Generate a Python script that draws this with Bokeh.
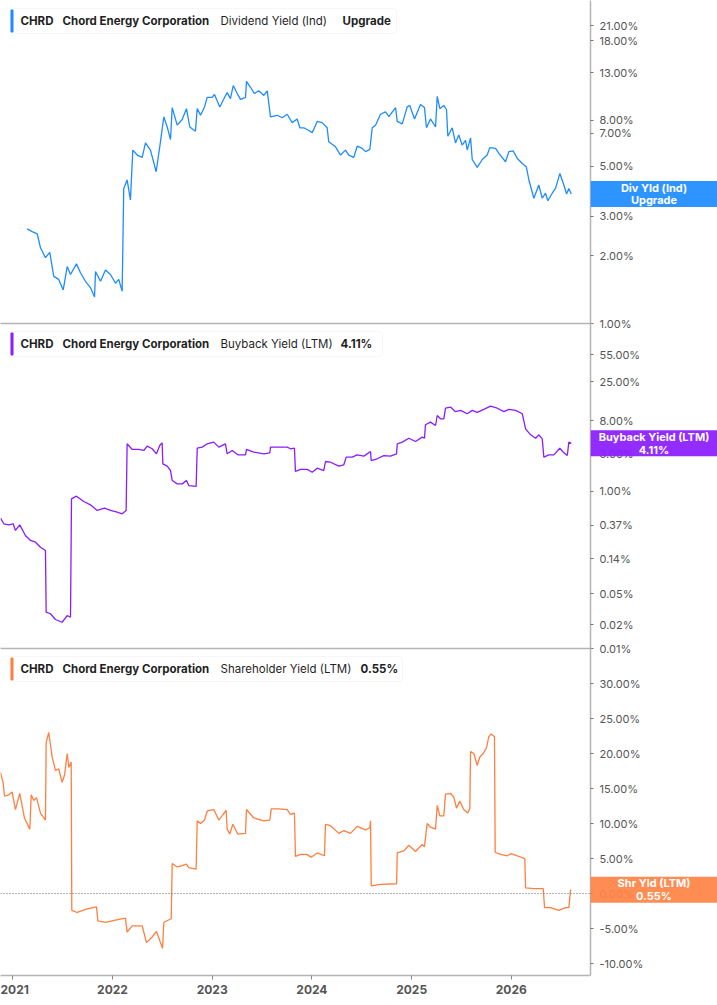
from bokeh.plotting import figure
from bokeh.layouts import column, row
from bokeh.models import (ColumnDataSource, FixedTicker, PrintfTickFormatter, Range1d,
                          Span, Label, BoxAnnotation)
from bokeh.core.properties import value
from bokeh.embed import file_html
from bokeh.resources import INLINE

# CHRD yields (x = fractional year, y = percent)
years = [2021, 2022, 2023, 2024, 2025, 2026]

div_t = [2021.144, 2021.195, 2021.245, 2021.278, 2021.328, 2021.371, 2021.411, 2021.461, 2021.506, 2021.546,
         2021.579, 2021.639, 2021.679, 2021.729, 2021.780, 2021.820, 2021.830, 2021.880, 2021.930, 2021.980,
         2022.030, 2022.063, 2022.097, 2022.113, 2022.147, 2022.180, 2022.204, 2022.248, 2022.298, 2022.331,
         2022.381, 2022.438, 2022.481, 2022.515, 2022.549, 2022.582, 2022.599, 2022.649, 2022.699, 2022.742,
         2022.775, 2022.832, 2022.850, 2022.883, 2022.923, 2022.950, 2023.000, 2023.023, 2023.076, 2023.110,
         2023.150, 2023.183, 2023.211, 2023.251, 2023.284, 2023.334, 2023.344, 2023.384, 2023.424, 2023.467,
         2023.518, 2023.552, 2023.585, 2023.652, 2023.702, 2023.752, 2023.802, 2023.853, 2023.879, 2023.919,
         2023.969, 2024.003, 2024.053, 2024.103, 2024.153, 2024.169, 2024.237, 2024.287, 2024.337, 2024.370,
         2024.420, 2024.454, 2024.505, 2024.538, 2024.581, 2024.605, 2024.638, 2024.688, 2024.739, 2024.772,
         2024.839, 2024.856, 2024.906, 2024.956, 2024.982, 2025.029, 2025.089, 2025.129, 2025.149, 2025.189,
         2025.240, 2025.257, 2025.283, 2025.323, 2025.350, 2025.363, 2025.407, 2025.440, 2025.473, 2025.507,
         2025.541, 2025.558, 2025.591, 2025.608, 2025.658, 2025.708, 2025.758, 2025.784, 2025.842, 2025.875,
         2025.942, 2025.975, 2026.019, 2026.060, 2026.110, 2026.150, 2026.176, 2026.226, 2026.276, 2026.310,
         2026.343, 2026.366, 2026.410, 2026.443, 2026.487, 2026.527, 2026.554, 2026.577, 2026.601]
div_v = [2.63, 2.56, 2.50, 2.17, 1.96, 2.07, 1.62, 1.57, 1.41, 1.79,
         1.65, 1.84, 1.68, 1.54, 1.44, 1.31, 1.70, 1.54, 1.73, 1.65,
         1.51, 1.57, 1.39, 3.98, 4.34, 3.54, 5.89, 5.60, 5.47, 6.34,
         5.89, 4.72, 6.41, 8.27, 7.46, 6.56, 9.10, 7.60, 8.05, 9.00,
         7.46, 7.14, 9.00, 8.41, 9.16, 10.1, 10.1, 10.4, 9.16, 9.80,
         10.6, 9.97, 11.4, 10.5, 9.9, 10.1, 11.9, 11.2, 10.5, 10.8,
         10.3, 10.8, 8.27, 8.41, 8.2, 8.5, 7.8, 8.1, 7.4, 7.4,
         7.2, 7.04, 7.9, 7.8, 7.4, 6.41, 6.09, 5.6, 5.89, 5.6,
         5.47, 6.13, 5.99, 5.8, 5.93, 7.4, 7.6, 8.5, 8.7, 8.3,
         9.1, 7.9, 7.7, 9.16, 9.3, 8.1, 9.4, 9.1, 7.4, 8.1,
         7.46, 10.2, 9.0, 9.3, 8.9, 6.79, 7.4, 6.34, 6.87, 6.2,
         6.5, 5.89, 6.68, 5.35, 4.94, 5.35, 5.6, 6.04, 5.99, 5.7,
         5.23, 5.8, 5.84, 5.41, 5.14, 4.97, 4.34, 3.60, 4.12, 3.60,
         3.79, 3.51, 3.79, 3.98, 4.64, 4.12, 3.76, 3.98, 3.76]

bb_t = [2020.877, 2020.910, 2020.960, 2021.004, 2021.027, 2021.070, 2021.127, 2021.178, 2021.228, 2021.278,
        2021.328, 2021.335, 2021.378, 2021.428, 2021.495, 2021.546, 2021.579, 2021.589, 2021.639, 2021.712,
        2021.779, 2021.847, 2021.920, 2021.980, 2022.047, 2022.097, 2022.137, 2022.147, 2022.198, 2022.264,
        2022.314, 2022.348, 2022.398, 2022.441, 2022.474, 2022.498, 2022.505, 2022.549, 2022.582, 2022.599,
        2022.649, 2022.699, 2022.742, 2022.765, 2022.839, 2022.850, 2022.900, 2022.950, 2023.016, 2023.066,
        2023.133, 2023.150, 2023.201, 2023.257, 2023.334, 2023.344, 2023.417, 2023.518, 2023.578, 2023.585,
        2023.668, 2023.752, 2023.785, 2023.825, 2023.835, 2023.886, 2023.953, 2024.003, 2024.053, 2024.119,
        2024.136, 2024.187, 2024.270, 2024.320, 2024.344, 2024.404, 2024.454, 2024.521, 2024.588, 2024.595,
        2024.655, 2024.721, 2024.788, 2024.849, 2024.856, 2024.906, 2024.972, 2025.039, 2025.106, 2025.129,
        2025.139, 2025.189, 2025.240, 2025.257, 2025.290, 2025.323, 2025.340, 2025.390, 2025.440, 2025.491,
        2025.558, 2025.608, 2025.658, 2025.724, 2025.791, 2025.859, 2025.925, 2025.975, 2026.043, 2026.110,
        2026.143, 2026.193, 2026.244, 2026.277, 2026.310, 2026.326, 2026.376, 2026.426, 2026.486, 2026.527,
        2026.561, 2026.577, 2026.601]
bb_v = [0.457, 0.388, 0.376, 0.388, 0.319, 0.376, 0.275, 0.238, 0.226, 0.195,
        0.177, 0.029, 0.0277, 0.0234, 0.0216, 0.0263, 0.025, 0.807, 0.871, 0.746,
        0.676, 0.573, 0.613, 0.573, 0.545, 0.520, 0.573, 4.05, 3.43, 3.43,
        3.33, 3.78, 3.50, 3.02, 3.85, 4.17, 2.25, 2.10, 1.85, 1.38,
        1.25, 1.25, 1.38, 1.19, 1.16, 3.56, 3.67, 4.05, 4.25, 3.67,
        4.05, 3.02, 3.33, 2.93, 2.93, 3.43, 3.17, 3.02, 3.11, 3.67,
        3.67, 3.67, 3.50, 3.56, 1.80, 1.91, 1.91, 1.76, 1.98, 1.85,
        2.41, 2.36, 2.10, 2.19, 2.74, 2.74, 2.93, 2.82, 3.23, 2.48,
        2.61, 2.87, 2.82, 3.02, 4.05, 4.25, 4.77, 4.33, 4.92, 4.77,
        7.08, 7.64, 6.93, 9.29, 8.43, 8.43, 11.5, 11.9, 10.4, 10.8,
        9.77, 10.8, 10.2, 11.1, 12.2, 11.5, 10.4, 11.1, 10.8, 9.77,
        6.29, 5.27, 4.77, 5.27, 4.69, 2.74, 2.93, 2.93, 3.56, 3.11,
        2.87, 4.25, 4.11]

sh_t = [2020.877, 2020.904, 2020.917, 2020.960, 2020.994, 2021.027, 2021.070, 2021.117, 2021.171, 2021.185,
        2021.211, 2021.238, 2021.278, 2021.328, 2021.335, 2021.361, 2021.395, 2021.428, 2021.461, 2021.495,
        2021.519, 2021.546, 2021.562, 2021.586, 2021.592, 2021.646, 2021.746, 2021.840, 2021.853, 2021.930,
        2022.030, 2022.130, 2022.147, 2022.198, 2022.298, 2022.341, 2022.398, 2022.441, 2022.481, 2022.502,
        2022.515, 2022.589, 2022.599, 2022.649, 2022.699, 2022.742, 2022.765, 2022.839, 2022.850, 2022.883,
        2022.923, 2022.950, 2023.016, 2023.066, 2023.110, 2023.140, 2023.150, 2023.176, 2023.207, 2023.257,
        2023.334, 2023.344, 2023.417, 2023.518, 2023.578, 2023.592, 2023.668, 2023.752, 2023.785, 2023.825,
        2023.835, 2023.886, 2023.946, 2023.993, 2024.053, 2024.126, 2024.136, 2024.187, 2024.270, 2024.320,
        2024.387, 2024.454, 2024.538, 2024.581, 2024.588, 2024.595, 2024.685, 2024.849, 2024.856, 2024.922,
        2024.972, 2025.039, 2025.106, 2025.129, 2025.156, 2025.189, 2025.240, 2025.257, 2025.283, 2025.323,
        2025.340, 2025.390, 2025.423, 2025.450, 2025.483, 2025.523, 2025.564, 2025.584, 2025.591, 2025.624,
        2025.658, 2025.684, 2025.718, 2025.751, 2025.774, 2025.798, 2025.831, 2025.838, 2025.892, 2025.959,
        2025.999, 2026.059, 2026.135, 2026.143, 2026.226, 2026.320, 2026.333, 2026.393, 2026.476, 2026.545,
        2026.577, 2026.593, 2026.601]
sh_v = [17.3, 15.8, 13.9, 14.1, 14.5, 12.0, 14.3, 10.8, 9.2, 14.1,
        13.3, 13.7, 11.5, 10.5, 21.6, 23.0, 19.5, 17.6, 17.8, 15.9,
        16.9, 20.0, 18.0, 18.8, -2.4, -2.7, -2.2, -1.9, -3.9, -4.1,
        -3.8, -3.5, -5.5, -4.6, -4.6, -7.0, -6.2, -5.4, -7.0, -7.8,
        -4.1, -3.6, 4.3, 3.8, 4.0, 4.2, 3.7, 3.5, 10.4, 10.0,
        10.5, 11.8, 12.0, 10.5, 11.3, 11.9, 9.2, 8.5, 9.9, 8.5,
        8.6, 12.0, 10.8, 10.4, 10.5, 12.1, 12.1, 12.0, 11.3, 11.5,
        5.3, 5.6, 5.6, 5.2, 5.8, 5.4, 9.9, 9.7, 8.6, 9.0,
        8.6, 9.6, 9.1, 9.4, 10.4, 1.1, 1.3, 1.4, 5.8, 6.1,
        6.9, 6.0, 7.0, 6.7, 10.0, 9.5, 9.2, 12.6, 11.1, 11.1,
        14.2, 14.3, 13.8, 12.2, 13.2, 12.0, 11.5, 12.2, 20.3, 20.0,
        18.3, 19.5, 20.0, 20.8, 22.4, 22.8, 22.4, 5.9, 5.6, 5.4,
        5.7, 5.4, 5.0, 0.8, 0.7, 0.7, -2.0, -2.0, -2.4, -2.0,
        -2.0, 0.4, 0.55]

div_ticks = [1, 2, 3, 5, 7, 8, 13, 18, 21]
bb_ticks = [0.01, 0.02, 0.05, 0.14, 0.37, 1, 3, 8, 25, 55]
sh_ticks = [-10, -5, 0, 5, 10, 15, 20, 25, 30]

FONT = "Inter"
BLUE, PURPLE, ORANGE = "#1e8cff", "#8a1cff", "#ff7f40"
FRAME_W, RIGHT_W, OVERLAP = 590, 127, 8

x_range = Range1d(2020.877, 2026.794)


def make_panel(t, v, color, y_range, ticks, log, frame_h, bottom, xaxis_labels):
    p = figure(frame_width=FRAME_W, frame_height=frame_h, x_range=x_range,
               y_range=y_range, y_axis_type="log" if log else "linear",
               y_axis_location="right", output_backend="svg", toolbar_location=None,
               min_border_left=0, min_border_top=0, min_border_right=RIGHT_W,
               min_border_bottom=bottom)
    p.background_fill_color = None
    p.border_fill_color = None
    p.outline_line_color = None
    p.xgrid.visible = False
    p.ygrid.visible = False

    p.yaxis.ticker = FixedTicker(ticks=ticks, minor_ticks=[])
    p.yaxis.formatter = PrintfTickFormatter(format="%.2f%%")
    p.yaxis.axis_line_color = "#b4b4b4"
    p.yaxis.axis_line_width = 1.5
    p.yaxis.major_tick_line_color = "#777777"
    p.yaxis.major_tick_out = 3
    p.yaxis.major_tick_in = 0
    p.yaxis.major_label_standoff = 6
    p.yaxis.major_label_text_font = FONT
    p.yaxis.major_label_text_font_size = "11px"
    p.yaxis.major_label_text_color = "#555555"

    p.xaxis.axis_line_color = "#b4b4b4"
    p.xaxis.axis_line_width = 1.5
    if xaxis_labels:
        p.xaxis.ticker = FixedTicker(ticks=years, minor_ticks=[])
        p.xaxis.major_tick_line_color = "#888888"
        p.xaxis.major_tick_out = 4
        p.xaxis.major_tick_in = 0
        p.xaxis.major_label_standoff = 5
        p.xaxis.major_label_text_font = FONT
        p.xaxis.major_label_text_font_size = "12px"
        p.xaxis.major_label_text_font_style = "bold"
        p.xaxis.major_label_text_color = "#555555"
    else:
        p.xaxis.ticker = FixedTicker(ticks=[], minor_ticks=[])

    src = ColumnDataSource(dict(t=t, v=v))
    p.line("t", "v", source=src, line_color=color, line_width=1.3)
    return p


def add_legend(p, frame_h, color, right, parts):
    p.add_layout(BoxAnnotation(left=10, right=right, top=frame_h - 8, bottom=frame_h - 33,
                               left_units="screen", right_units="screen",
                               top_units="screen", bottom_units="screen",
                               fill_color="white", fill_alpha=1, line_color="#e0e0e0",
                               line_width=1, border_radius=3, level="overlay"))
    p.add_layout(BoxAnnotation(left=10, right=13, top=frame_h - 9, bottom=frame_h - 32,
                               left_units="screen", right_units="screen",
                               top_units="screen", bottom_units="screen",
                               fill_color=color, fill_alpha=1, line_color=None,
                               border_radius=1, level="overlay"))
    for x, text, style in parts:
        p.add_layout(Label(x=x, y=frame_h - 20.5, x_units="screen", y_units="screen",
                           text=text, text_font=FONT, text_font_size="11.5px",
                           text_font_style=style, text_color="#1f1f1f",
                           text_baseline="middle", level="overlay"))


def value_box(y_range, log, frame_h, bottom, last, text, color):
    # transparent strip laid over the right axis area, sharing the panel's y scale
    b = figure(frame_width=RIGHT_W, frame_height=frame_h, x_range=Range1d(0, 1),
               y_range=y_range, y_axis_type="log" if log else "linear",
               x_axis_location=None, y_axis_location=None,
               output_backend="svg", toolbar_location=None,
               min_border_left=0, min_border_top=0, min_border_right=0,
               min_border_bottom=bottom)
    b.background_fill_color = None
    b.border_fill_color = None
    b.outline_line_color = None
    b.xgrid.visible = False
    b.ygrid.visible = False
    src = ColumnDataSource(dict(x=[0.5], y=[last], text=[text]))
    b.rect(x="x", y="y", width=1, height=26, height_units="screen", source=src,
           fill_color=color, fill_alpha=0.93, line_color=None)
    b.text(x="x", y="y", text="text", source=src, text_align="center",
           text_baseline="middle", text_font=value(FONT), text_font_size="11px",
           text_font_style="bold", text_color="white", text_line_height=0.9)
    b.margin = (0, 0, 0, -RIGHT_W)
    return b


H1, H2, H3 = 323, 325, 327
yr1 = Range1d(1.0, 27.2)
yr2 = Range1d(0.01, 138.0)
yr3 = Range1d(-11.7, 35.0)

bb_last = "%.2f%%" % bb_v[-1]
sh_last = "%.2f%%" % sh_v[-1]

p1 = make_panel(div_t, div_v, BLUE, yr1, div_ticks, True, H1, OVERLAP, False)
add_legend(p1, H1, BLUE, 396, [(20, "CHRD", "bold"), (62, "Chord Energy Corporation", "bold"),
                               (220, "Dividend Yield (Ind)", "normal"), (342, "Upgrade", "bold")])
b1 = value_box(yr1, True, H1, OVERLAP, div_v[-1], "Div Yld (Ind)\nUpgrade", BLUE)

p2 = make_panel(bb_t, bb_v, PURPLE, yr2, bb_ticks, True, H2, OVERLAP, False)
add_legend(p2, H2, PURPLE, 382, [(20, "CHRD", "bold"), (62, "Chord Energy Corporation", "bold"),
                                 (220, "Buyback Yield (LTM)", "normal"), (340, bb_last, "bold")])
b2 = value_box(yr2, True, H2, OVERLAP, bb_v[-1], "Buyback Yield (LTM)\n" + bb_last, PURPLE)

p3 = make_panel(sh_t, sh_v, ORANGE, yr3, sh_ticks, False, H3, 30, True)
p3.add_layout(Span(location=0, dimension="width", line_color="#666666", line_width=1,
                   line_dash="1 2"))
add_legend(p3, H3, ORANGE, 402, [(20, "CHRD", "bold"), (62, "Chord Energy Corporation", "bold"),
                                 (220, "Shareholder Yield (LTM)", "normal"), (360, sh_last, "bold")])
b3 = value_box(yr3, False, H3, 30, sh_v[-1], "Shr Yld (LTM)\n" + sh_last, "#ff8346")

layout = column(row(p1, b1),
                row(p2, b2, margin=(-OVERLAP, 0, 0, 0)),
                row(p3, b3, margin=(-OVERLAP, 0, 0, 0)))

open("out.html", "w").write(file_html(layout, INLINE, "CHRD yields"))
